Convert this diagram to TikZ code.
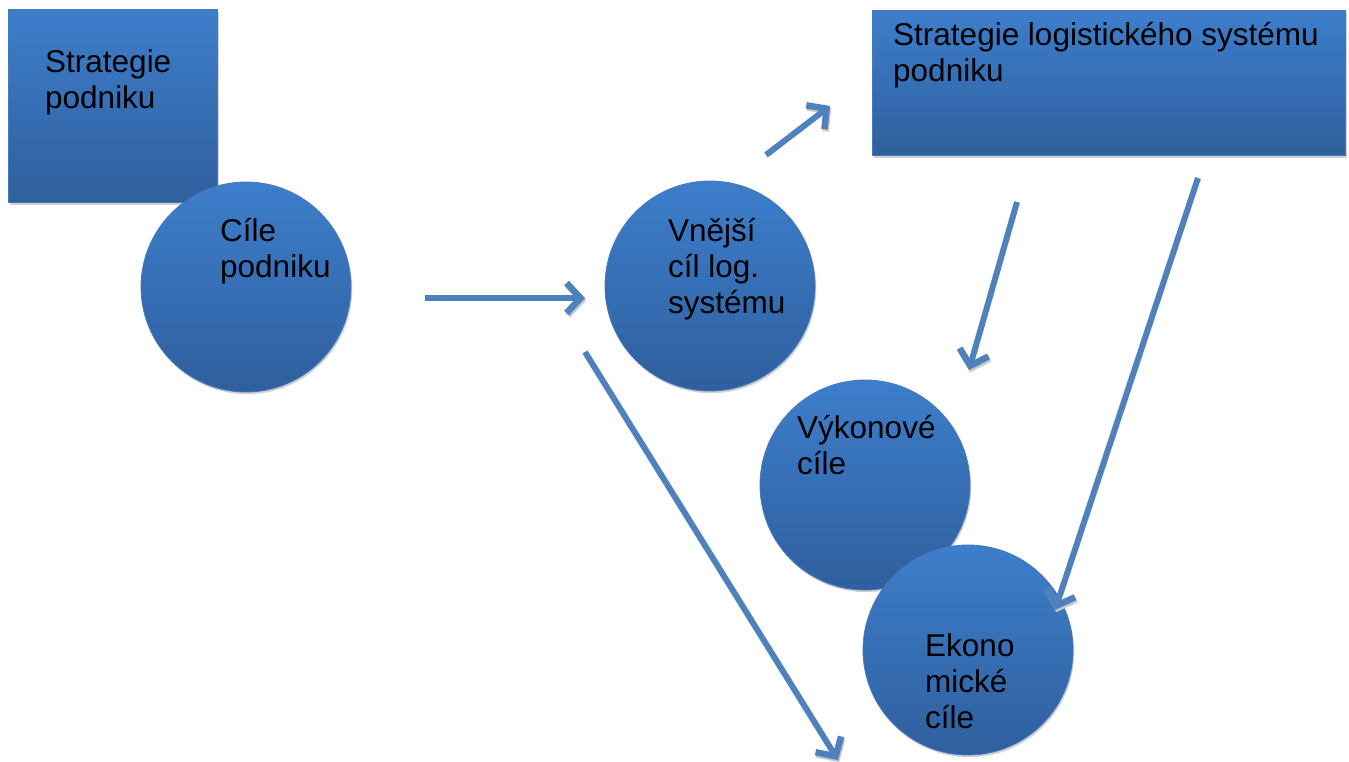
\documentclass[tikz,border=0pt]{standalone}
\usepackage{fontspec}
\setmainfont{Liberation Sans}
\usetikzlibrary{arrows.meta,shadows}
\definecolor{topblue}{HTML}{3D7ECB}
\definecolor{botblue}{HTML}{2F5F9E}
\definecolor{edgeblue}{HTML}{4679BA}
\definecolor{arrowblue}{HTML}{4F81BD}
\begin{document}
\begin{tikzpicture}[x=1pt,y=-1pt,
  shapebox/.style={top color=topblue,bottom color=botblue,draw=edgeblue,line width=0.8pt,
    drop shadow={shadow xshift=1.2pt,shadow yshift=-2.2pt,fill=black!30,opacity=0.6}},
  rectbox/.style={shapebox,rectangle,anchor=north west,inner sep=0pt},
  circbox/.style={shapebox,circle,minimum size=210pt,inner sep=0pt},
  lbl/.style={anchor=base west,align=left,inner sep=0pt,text=black,
    font=\fontsize{31.5pt}{36pt}\selectfont},
  arr/.style={draw=arrowblue,line width=6pt,
    -{Straight Barb[length=14pt,width=30pt,line width=6.5pt]},
    preaction={draw=black!22,transform canvas={shift={(1.2pt,-2.2pt)}}}}
]
\useasboundingbox (0,0) rectangle (1349,762);

% shapes
\node[rectbox,minimum width=209pt,minimum height=193pt] (sp) at (8,9) {};
\node[circbox] (cp) at (246,287) {};
\node[circbox] (vc) at (710,286) {};
\node[rectbox,minimum width=473pt,minimum height=145pt] (sl) at (872,10) {};
\node[circbox] (vk) at (865,485) {};
\node[circbox] (ek) at (968,650) {};

% labels (anchored at the baseline of their last line)
\node[lbl] (tsp) at (45,109) {Strategie\\podniku};
\node[lbl] (tcp) at (220,277) {Cíle\\podniku};
\node[lbl] (tvc) at (668,313) {Vnější\\cíl log.\\systému};
\node[lbl] (tsl) at (893,82) {Strategie logistického systému\\podniku};
\node[lbl] (tvk) at (797,474) {Výkonové\\cíle};
\node[lbl] (tek) at (925,728) {Ekono\\mické\\cíle};

% arrow end points
\coordinate (a1s) at (425,298); \coordinate (a1e) at (585,298);
\coordinate (a2s) at (766,155); \coordinate (a2e) at (830,106);
\coordinate (a3s) at (1017,202); \coordinate (a3e) at (969,370);
\coordinate (a4s) at (1198,178); \coordinate (a4e) at (1055,610);
\coordinate (a5s) at (585,352); \coordinate (a5e) at (838,760);

\draw[arr] (a1s) -- (a1e);
\draw[arr] (a2s) -- (a2e);
\draw[arr] (a3s) -- (a3e);
\draw[arr] (a4s) -- (a4e);
\draw[arr] (a5s) -- (a5e);
\end{tikzpicture}
\end{document}
